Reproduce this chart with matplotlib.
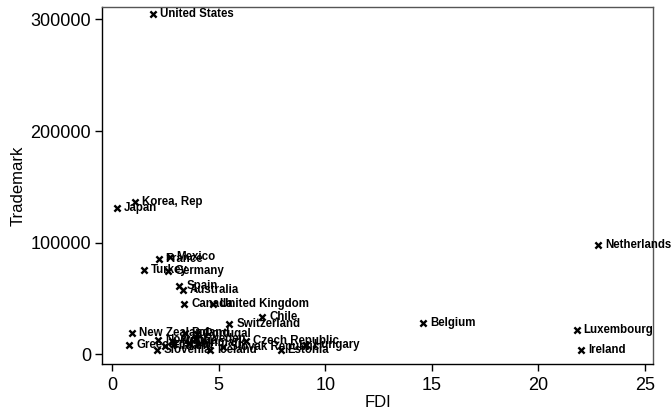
import matplotlib
matplotlib.use("Agg")
import matplotlib.pyplot as plt

countries = ["United States", "Korea, Rep", "Japan", "Mexico", "France", "Turkey",
             "Germany", "Spain", "Australia", "Canada", "United Kingdom", "Chile",
             "Switzerland", "New Zealand", "Poland", "Portugal", "Norway", "Austria",
             "Sweden", "Denmark", "Finland", "Israel", "Czech Republic",
             "Slovak Republic", "Hungary", "Greece", "Slovenia", "Iceland", "Estonia",
             "Belgium", "Luxembourg", "Ireland", "Netherlands"]
fdi = [1.9, 1.07, 0.23, 2.7, 2.18, 1.5,
       2.6, 3.15, 3.3, 3.38, 4.74, 7.04,
       5.49, 0.93, 3.4, 4.0, 2.15, 2.8,
       3.9, 3.6, 2.5, 2.9, 6.3,
       5.2, 9.1, 0.8, 2.1, 4.6, 7.9,
       14.6, 21.8, 22.0, 22.8]
trademark = [304900, 136700, 131400, 87500, 85400, 75500,
             75000, 61200, 57600, 45000, 45000, 33100,
             27100, 19300, 19000, 18000, 13000, 12000,
             13500, 10000, 7000, 9000, 12000,
             6500, 8000, 8400, 3900, 3500, 3900,
             27800, 21800, 3900, 97900]

plt.rcParams['font.family'] = ['Liberation Sans', 'DejaVu Sans']

fig = plt.figure(figsize=(6.72, 4.13), dpi=100)
ax = fig.add_axes([102/672, 1-364/413, (653-102)/672, (364-7)/413])

ax.scatter(fdi, trademark, marker='x', s=20, c='black', linewidths=1.7, zorder=3)
for name, xv, yv in zip(countries, fdi, trademark):
    ax.annotate(name, (xv, yv), xytext=(5, 0), textcoords='offset points',
                va='center', ha='left', fontsize=8.3, fontweight='bold',
                color='black', annotation_clip=False, zorder=4)

ax.set_xlim(-0.48, 25.38)
ax.set_ylim(-8700, 311200)
ax.set_xticks([0, 5, 10, 15, 20, 25])
ax.set_yticks([0, 100000, 200000, 300000])
ax.set_yticklabels(["0", "100000", "200000", "300000"])
ax.tick_params(axis='both', direction='out', length=5, width=1, labelsize=13,
               pad=3, colors='black')
ax.tick_params(axis='x', pad=4)
for s in ax.spines.values():
    s.set_color('black')
    s.set_linewidth(1.0)
ax.spines['right'].set_color('#555555')
ax.spines['top'].set_color('#555555')

ax.set_xlabel("FDI", fontsize=12, labelpad=1)
ax.set_ylabel("Trademark", fontsize=12, labelpad=3)

fig.savefig("out.png", dpi=100, facecolor='white')
